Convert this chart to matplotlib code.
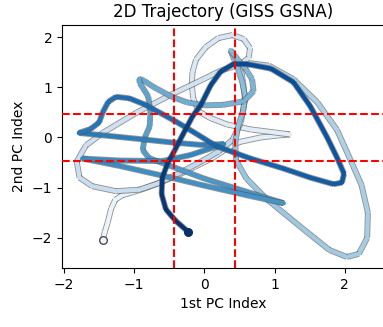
import numpy as np
import matplotlib
matplotlib.use("Agg")
import matplotlib.pyplot as plt
import matplotlib.patheffects as pe

# trajectory in PC space (start -> end)
pc1 = [-1.45, -1.42, -1.38, -1.33, -1.27, -1.17, -1.02, -0.84, -0.60, -0.36, -0.13, 0.10, 0.30, 0.50, 0.80, 1.05, 1.22,
       1.00, 0.66, 0.32, 0.08, -0.08, -0.16, -0.18, -0.17, -0.12, 0.02, 0.20, 0.40, 0.56, 0.65, 0.63, 0.50,
       0.23, -0.06, -0.48, -0.96, -1.44, -1.69, -1.82, -1.78, -1.60, -1.26, -0.93, -0.65, -0.40, -0.10, 0.20, 0.40,
       0.52, 0.58, 0.55, 0.52, 0.65,
       0.92, 1.27, 1.61, 1.89, 2.08, 2.24, 2.33, 2.32, 2.20, 2.03, 1.78, 1.37, 0.89, 0.60, 0.45, 0.44, 0.48, 0.55,
       0.58, 0.54, 0.47, 0.37,
       0.46, 0.58, 0.68, 0.70, 0.56, 0.27, 0.00, -0.25, -0.48, -0.73, -0.86, -0.93,
       -0.92, -0.86, -0.80, -0.77, -0.78, -0.85, -0.88, -0.79, -0.50,
       0.00, 0.60, 1.13, 0.60, 0.00, -0.60, -1.20, -1.74,
       -1.20, -0.60, -0.20, 0.28,
       -0.03, -0.46, -1.07, -1.50, -1.79,
       -1.62, -1.50, -1.45, -1.37, -1.26, -1.07, -0.84, -0.41, -0.17, 0.18, 0.66, 1.13, 1.51, 1.84, 1.96, 1.99,
       1.89, 1.75, 1.51, 1.27, 0.95, 0.61, 0.41, 0.23,
       0.09, -0.05, -0.17, -0.31, -0.44, -0.52, -0.60, -0.61, -0.55, -0.41, -0.23]
pc2 = [-2.05, -1.88, -1.70, -1.42, -1.24, -1.15, -1.09, -1.01, -0.88, -0.74, -0.58, -0.42, -0.24, -0.09, 0.00, 0.04, 0.06,
       0.10, 0.16, 0.26, 0.39, 0.52, 0.78, 1.05, 1.30, 1.55, 1.80, 1.98, 2.04, 1.96, 1.78, 1.58, 1.45,
       1.33, 1.13, 0.85, 0.50, 0.10, -0.16, -0.48, -0.80, -0.97, -1.07, -1.04, -0.91, -0.74, -0.52, -0.28, -0.05,
       0.30, 0.75, 1.10, 1.38, 1.48,
       1.43, 1.16, 0.70, 0.15, -0.44, -0.95, -1.50, -2.00, -2.32, -2.38, -2.24, -1.78, -1.23, -0.82, -0.45, -0.10,
       0.22, 0.52, 0.82, 1.10, 1.40, 1.74,
       1.58, 1.38, 1.16, 0.92, 0.72, 0.65, 0.64, 0.70, 0.82, 1.01, 1.13, 1.17,
       1.08, 0.95, 0.81, 0.50, 0.22, 0.00, -0.25, -0.41, -0.56,
       -0.82, -1.08, -1.31, -1.15, -0.96, -0.76, -0.57, -0.42,
       -0.46, -0.47, -0.35, -0.13,
       -0.15, -0.10, -0.01, 0.05, 0.09,
       0.17, 0.30, 0.50, 0.71, 0.81, 0.78, 0.65, 0.32, 0.12, -0.18, -0.42, -0.62, -0.80, -0.93, -0.90, -0.72,
       -0.40, 0.00, 0.62, 1.10, 1.37, 1.46, 1.46, 1.31,
       1.04, 0.65, 0.42, 0.05, -0.30, -0.50, -0.80, -1.13, -1.43, -1.66, -1.88]

x_thresh = [-0.44, 0.44]
y_thresh = [-0.47, 0.47]

fig = plt.figure(figsize=(3.83, 3.27), dpi=100)
ax = fig.add_axes([62 / 383, 59 / 327, 322 / 383, 243 / 327])

x = np.array(pc1)
y = np.array(pc2)
n = len(x)
cmap = plt.get_cmap("Blues")

outline = [pe.Stroke(linewidth=4.3, foreground="0.3", alpha=0.6, capstyle="butt"), pe.Normal()]
for i in range(n - 1):
    f = (i + 0.5) / (n - 1)
    c = cmap(0.05 + 0.95 * f ** 1.3)
    ax.plot(x[i:i + 2], y[i:i + 2], color=c, lw=3.0, solid_capstyle="round", path_effects=outline)

ax.plot(x[0], y[0], "o", ms=5.5, mfc=cmap(0.05), mec="0.3", mew=1, zorder=4)
ax.plot(x[-1], y[-1], "o", ms=5.5, color=cmap(1.0), zorder=4)

for v in x_thresh:
    ax.axvline(v, color="red", ls="--", lw=1.5, zorder=5)
for h in y_thresh:
    ax.axhline(h, color="red", ls="--", lw=1.5, zorder=5)

ax.set_xlim(-2.03, 2.56)
ax.set_ylim(-2.6, 2.24)
ax.set_xticks([-2, -1, 0, 1, 2])
ax.set_yticks([-2, -1, 0, 1, 2])
ax.set_title("2D Trajectory (GISS GSNA)", fontsize=12)
ax.set_xlabel("1st PC Index")
ax.set_ylabel("2nd PC Index")

fig.savefig("out.png", dpi=100)
